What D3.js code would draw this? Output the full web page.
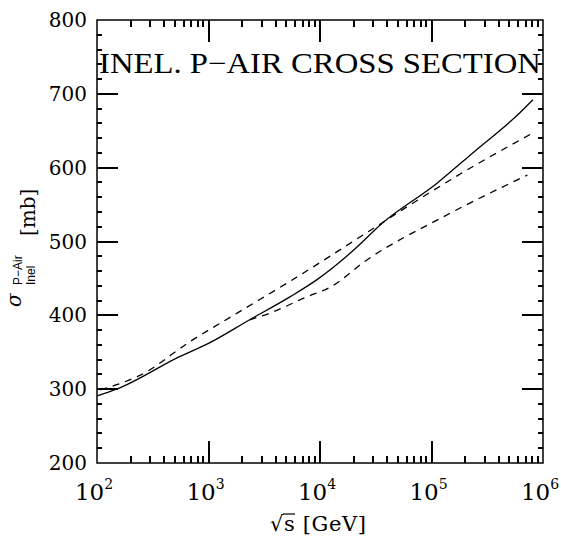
<!DOCTYPE html>
<html>
<head>
<meta charset="utf-8">
<script src="https://cdn.jsdelivr.net/npm/d3@7"></script>
<style>
  body { margin: 0; background: #fff; }
  svg { display: block; }
</style>
</head>
<body>
<svg id="chart"></svg>
<script>
// sqrt(s) in GeV, sigma in mb
var solidE = [100, 150, 550, 1000, 2340, 5370, 9330, 19950, 36300, 112200, 234400, 616600, 812800];
var solidS = [291, 300, 344, 362, 394, 425, 448, 488, 525, 579, 620, 674, 692];

var upperE = [107, 150, 245, 676, 1900, 5370, 26300, 60300, 209000, 813000];
var upperS = [299, 306, 319, 364, 405, 446, 512, 547, 597, 647];

var lowerE = [2340, 3550, 7600, 12300, 26300, 126000, 724000];
var lowerS = [394, 403, 425, 438, 475, 533, 590];

var xDomain = [1e2, 1e6];
var yDomain = [200, 800];
var yMajor = [200, 300, 400, 500, 600, 700, 800];
var xMajorExp = ["2", "3", "4", "5", "6"];
var title = "INEL. P\u2212AIR CROSS SECTION";

const W = 561, H = 536;
const pLeft = 97, pRight = 543, pTop = 20, pBottom = 463;

const svg = d3.select('svg#chart')
  .attr('width', W)
  .attr('height', H);

const x = d3.scaleLog().domain(xDomain).range([pLeft, pRight]);
const y = d3.scaleLinear().domain(yDomain).range([pBottom, pTop]);

const serif = "'DejaVu Serif', serif";

// frame
svg.append('rect')
  .attr('x', pLeft).attr('y', pTop)
  .attr('width', pRight - pLeft).attr('height', pBottom - pTop)
  .attr('fill', 'none').attr('stroke', '#000').attr('stroke-width', 1.5);

// y tick labels
svg.selectAll('text.ylab')
  .data(yMajor)
  .enter().append('text')
  .classed('ylab', true)
  .attr('x', 87)
  .attr('y', d => y(d) + 7)
  .attr('text-anchor', 'end')
  .attr('font-family', serif)
  .attr('font-size', 20)
  .text(d => d);

// x tick labels 10^n
const xl = svg.selectAll('text.xlab')
  .data(xMajorExp)
  .enter().append('text')
  .classed('xlab', true)
  .attr('x', d => x(Math.pow(10, +d)) - 3)
  .attr('y', 500)
  .attr('text-anchor', 'middle')
  .attr('font-family', serif)
  .attr('font-size', 23);
xl.append('tspan').text('10');
xl.append('tspan').attr('font-size', 14).attr('dy', -11).text(d => d);

// curves
const curveLine = d3.line()
  .x(d => x(d[0]))
  .y(d => y(d[1]))
  .curve(d3.curveMonotoneX);

function addCurve(E, S, dash) {
  svg.append('path')
    .datum(E.map((e, i) => [e, S[i]]))
    .attr('d', curveLine)
    .attr('fill', 'none')
    .attr('stroke', '#000')
    .attr('stroke-width', 1.3)
    .attr('stroke-dasharray', dash);
}
addCurve(solidE, solidS, null);
addCurve(upperE, upperS, '7,6');
addCurve(lowerE, lowerS, '7,6');

// title
svg.append('text')
  .attr('x', 99)
  .attr('y', 73)
  .attr('font-family', "'Liberation Serif', serif")
  .attr('font-size', 29)
  .attr('textLength', 442)
  .attr('lengthAdjust', 'spacingAndGlyphs')
  .text(title);

// x axis title: sqrt(s) [GeV]
const rad = svg.append('text')
  .attr('x', 270).attr('y', 531)
  .attr('font-family', serif)
  .attr('font-size', 21)
  .text('\u221A');
const rb = rad.node().getBBox();
svg.append('text')
  .attr('x', rb.x + rb.width)
  .attr('y', 531)
  .attr('font-family', serif)
  .attr('font-size', 21)
  .attr('textLength', 96 - rb.width)
  .text('s [GeV]');
svg.append('path')
  .attr('d', 'M' + (rb.x + rb.width - 1) + ',' + (rb.y + 2) + 'h12')
  .attr('stroke', '#000').attr('stroke-width', 1.2);

// y axis title, rotated
const yt = svg.append('g').attr('transform', 'rotate(-90)');
yt.append('text')
  .attr('x', -307).attr('y', 21)
  .attr('font-family', serif)
  .attr('font-style', 'italic')
  .attr('font-size', 20)
  .text('\u03C3');
yt.append('text')
  .attr('x', -285).attr('y', 22)
  .attr('font-family', "'Liberation Sans', sans-serif")
  .attr('font-size', 12)
  .text('P\u2212Air');
yt.append('text')
  .attr('x', -285).attr('y', 35)
  .attr('font-family', "'Liberation Sans', sans-serif")
  .attr('font-size', 12)
  .text('Inel');
yt.append('text')
  .attr('x', -236).attr('y', 35)
  .attr('font-family', serif)
  .attr('font-size', 20)
  .text('[mb]');

// ticks, drawn last: x ticks bottom and top, y ticks left and right
const xTickData = x.ticks().filter(t => t > xDomain[0] && t < xDomain[1]).map(function(t) {
  const lg = Math.log10(t);
  return { v: t, len: Math.abs(lg - Math.round(lg)) < 1e-9 ? 22 : 7 };
});
const yTickData = d3.range(yDomain[0] + 20, yDomain[1], 20).map(function(t) {
  return { v: t, len: t % 100 == 0 ? 21 : 5 };
});
const tickG = svg.append('g')
  .attr('fill', 'none')
  .attr('stroke', '#000')
  .attr('stroke-width', 2)
  .attr('shape-rendering', 'crispEdges');
tickG.selectAll('path.xtick')
  .data(xTickData)
  .enter().append('path')
  .classed('xtick', true)
  .attr('d', d => 'M' + x(d.v) + ',' + pBottom + 'V' + (pBottom - d.len) +
                  'M' + x(d.v) + ',' + pTop + 'V' + (pTop + d.len));
tickG.selectAll('path.ytick')
  .data(yTickData)
  .enter().append('path')
  .classed('ytick', true)
  .attr('d', d => 'M' + pLeft + ',' + y(d.v) + 'H' + (pLeft + d.len) +
                  'M' + pRight + ',' + y(d.v) + 'H' + (pRight - d.len));
</script>
</body>
</html>
